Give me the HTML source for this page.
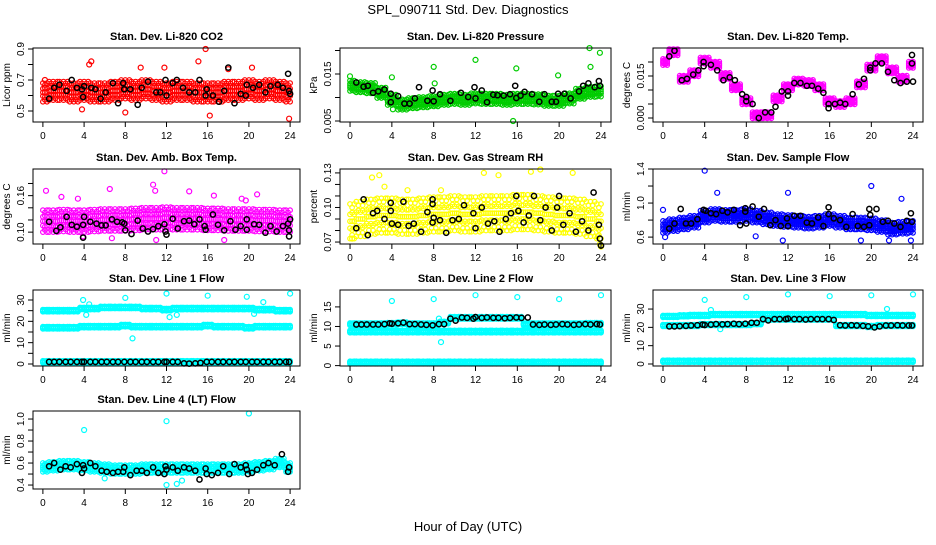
<!DOCTYPE html>
<html><head><meta charset="utf-8"><style>
body{margin:0;background:#fff}
svg text{font-family:"Liberation Sans",sans-serif}
</style></head><body>
<svg id="c" width="936" height="540" xmlns="http://www.w3.org/2000/svg">
<rect width="936" height="540" fill="#fff"/>
<text x="468" y="14" font-size="13" text-anchor="middle">SPL_090711  Std. Dev. Diagnostics</text>
<text x="468" y="531" font-size="13" text-anchor="middle">Hour of Day (UTC)</text>
</svg>
<script>
const xTicks=[0,4,8,12,16,20,24];
const H=[0.6,1.1,1.6,2.2,2.7,3.3,3.8,4,4.6,5.1,5.7,6.2,6.8,7.3,7.9,8.5,9,9.6,10.1,10.7,11.2,11.8,12,12.6,13.1,13.7,14.2,14.8,15.3,15.9,16.4,17,17.5,18.1,18.6,19.2,19.7,20.3,20.8,21.4,21.9,22.5,23,23.6,23.9];
const co2Band=[0.62,0.63,0.63,0.62,0.63,0.62,0.62,0.63,0.64,0.63,0.64,0.63,0.62,0.63,0.63,0.62,0.62,0.62,0.63,0.63,0.64,0.63,0.64,0.63,0.62];
const presBand=[0.0125,0.0122,0.012,0.011,0.0095,0.0085,0.0088,0.009,0.0092,0.0095,0.0097,0.0095,0.0098,0.0097,0.0097,0.0095,0.0097,0.0097,0.0096,0.0093,0.0093,0.0098,0.0108,0.0112,0.0113];
const tempBand=[0.020,0.0235,0.014,0.016,0.0205,0.019,0.015,0.011,0.006,0.001,0.001,0.007,0.011,0.013,0.0125,0.011,0.006,0.005,0.006,0.012,0.018,0.021,0.017,0.014,0.019];
const ambBand=[0.118,0.118,0.119,0.118,0.118,0.119,0.12,0.12,0.12,0.121,0.122,0.122,0.123,0.122,0.122,0.122,0.121,0.121,0.12,0.12,0.12,0.119,0.119,0.118,0.118];
const rhBand=[0.088,0.09,0.092,0.093,0.093,0.092,0.092,0.093,0.094,0.094,0.095,0.094,0.094,0.095,0.095,0.095,0.096,0.096,0.095,0.094,0.093,0.093,0.092,0.09,0.088];
const flowBand=[0.72,0.74,0.76,0.78,0.84,0.86,0.85,0.85,0.86,0.84,0.82,0.8,0.79,0.78,0.77,0.78,0.8,0.78,0.76,0.76,0.75,0.73,0.7,0.71,0.72];
const l1Up=[25,25,25,25,26,26,26.5,26.5,26.5,26.5,26,26,25.5,26,26,26,26,26,26,26,26,25.5,25.5,25,25];
const l1Mid=[17,17,17,17,17.5,17.5,17.5,17.5,18,17.5,17.5,17.5,17.5,17.5,17.5,17.5,18,17.5,17.5,17.5,17,17.5,17.5,17.5,17.5];
const l1Low=[1,1,1,1,1,1,1,1,1,1,1,1,1,1,1,1,1,1,1,1,1,1,1,1,1];
const l2Up=[10.6,10.6,10.6,10.6,10.7,10.8,10.6,10.6,10.6,11,12.2,12.2,12.2,12.2,12.2,12.2,12.2,10.6,10.6,10.6,10.6,10.6,10.6,10.7,10.7];
const l2Mid=[8.7,8.7,8.7,8.7,8.7,8.7,8.7,8.7,8.7,8.7,8.7,8.7,8.7,8.7,8.7,8.7,8.7,8.7,8.7,8.7,8.7,8.7,8.7,8.7,8.7];
const l2Low=[0.8,0.8,0.8,0.8,0.8,0.8,0.8,0.8,0.8,0.8,0.8,0.8,0.8,0.8,0.8,0.8,0.8,0.8,0.8,0.8,0.8,0.8,0.8,0.8,0.8];
const l3Up=[26,26,26.3,26.5,26.5,27,27,27,27,27,27,27,27,27,27,27,27,27,27,27,26.5,26.5,26.5,26.5,26.5];
const l3Mid=[21,21,21,21,21.5,21.5,21.5,21.5,21.5,22,24.5,24.5,24.5,24.5,24.5,24.5,24.5,21,21,21,20.5,21,21,21,21];
const l3Low=[1.5,1.5,1.5,1.5,1.5,1.5,1.5,1.5,1.5,1.5,1.5,1.5,1.5,1.5,1.5,1.5,1.5,1.5,1.5,1.5,1.5,1.5,1.5,1.5,1.5];
const l4Band=[0.56,0.57,0.58,0.58,0.57,0.56,0.55,0.54,0.54,0.54,0.55,0.55,0.55,0.55,0.55,0.55,0.55,0.55,0.55,0.55,0.56,0.57,0.58,0.6,0.56];
const co2Out=[[4.5,0.80],[4.7,0.82],[15.8,0.9],[16.2,0.47],[23.9,0.45],[15.1,0.82],[8,0.49],[20.3,0.78],[9.5,0.78],[11.8,0.78],[18,0.77],[3.8,0.51],[0.2,0.7]];
const presOut=[[0,0.0145],[4,0.0143],[8,0.0165],[8.1,0.013],[12,0.018],[15.6,0.005],[15.9,0.0162],[19.9,0.0147],[22.9,0.0205],[23,0.0165],[23.9,0.0195],[4.1,0.0075]];
const ambOut=[[0.3,0.168],[1.8,0.158],[3.4,0.155],[6.5,0.171],[10.7,0.178],[11.8,0.2],[10.9,0.168],[14.2,0.167],[16.6,0.16],[20.8,0.162],[19.3,0.155],[19.7,0.152],[11,0.087],[17.6,0.087],[6.7,0.09],[3.9,0.093]];
const rhOut=[[0.2,0.073],[2.1,0.126],[2.8,0.128],[3.3,0.118],[5.5,0.115],[8.7,0.115],[12.8,0.13],[14.2,0.128],[18.2,0.133],[17.3,0.131],[21.3,0.13],[23.7,0.075],[23.9,0.068],[24,0.066]];
const flowOut=[[4,1.38],[5.2,1.12],[12,1.12],[20,1.2],[22.9,1.05],[0,0.92],[0.2,0.6],[11.5,0.56],[8.9,0.61],[21.7,0.56],[19,0.56],[23.8,0.56]];
const l1Out=[[3.9,30],[4.5,28],[8,31],[8.7,12],[12,33],[12.3,22],[16,32],[19.8,31.5],[21.4,29],[24,33],[20.5,23.5],[4.2,23],[13,23]];
const l2Out=[[4,16.5],[8,17],[8.5,12],[8.7,6],[12,18],[16,17.5],[20,17],[24,18]];
const l3Out=[[4,35],[8,36.5],[12,38],[16,37],[20,37.5],[24,38],[4.6,29.5],[21.5,30],[5.5,19]];
const l4Out=[[4,0.9],[12,0.98],[20,1.05],[12,0.4],[13,0.41],[13.5,0.44],[6,0.46]];
const co2Blk=[[0.6,0.58],[1.1,0.65],[1.6,0.67],[2.3,0.63],[2.8,0.7],[3.3,0.65],[3.8,0.64],[3.9,0.59],[4,0.66],[4.7,0.65],[5.1,0.64],[5.6,0.58],[6.1,0.62],[6.8,0.68],[7.3,0.55],[7.8,0.68],[7.9,0.64],[8.5,0.64],[9.2,0.54],[9.6,0.65],[10.2,0.69],[11,0.62],[11.4,0.62],[11.9,0.7],[12,0.6],[12.6,0.68],[13,0.7],[13.6,0.65],[14.2,0.62],[14.8,0.62],[15.2,0.7],[15.8,0.6],[15.9,0.64],[16.5,0.6],[17.1,0.56],[17.6,0.63],[18,0.78],[18.6,0.55],[19.2,0.61],[19.7,0.6],[19.8,0.67],[20.4,0.65],[21,0.67],[21.6,0.62],[22.1,0.66],[22.8,0.67],[23.3,0.65],[23.8,0.74],[23.9,0.63],[24,0.61]];
const presBlk=[[0.6,0.0132],[1.3,0.0123],[1.7,0.0125],[2.2,0.011],[2.7,0.0113],[3.3,0.0117],[3.9,0.0108],[3.9,0.009],[4.6,0.0103],[5.2,0.0087],[5.7,0.0087],[6.2,0.0098],[6.6,0.0122],[7.4,0.0093],[7.9,0.0115],[8,0.0092],[8.6,0.0107],[9.6,0.0093],[10.6,0.011],[11.3,0.0101],[11.9,0.0122],[12,0.0098],[12.6,0.0115],[13.1,0.009],[13.7,0.0106],[14.1,0.0105],[14.7,0.0104],[15.3,0.0107],[15.8,0.0125],[15.9,0.0099],[16.3,0.0104],[16.7,0.0112],[17.4,0.0107],[18.1,0.0091],[18.6,0.0107],[19.3,0.0091],[19.7,0.0091],[19.9,0.0108],[20.5,0.0108],[21.1,0.0098],[21.9,0.0113],[22.3,0.0125],[22.8,0.013],[23.4,0.0122],[23.8,0.0135],[23.9,0.0125]];
const tempBlk=[[0.6,0.022],[1.1,0.024],[1.8,0.0135],[2.3,0.014],[2.9,0.0155],[3.4,0.017],[3.9,0.02],[3.9,0.0185],[4.6,0.019],[5.2,0.017],[5.8,0.0135],[6.4,0.0145],[6.9,0.0135],[7.6,0.0085],[8,0.0075],[8,0.006],[8.6,0.005],[9.2,0],[9.8,0.002],[10.4,0.002],[10.8,0.004],[11.4,0.0095],[12,0.0095],[12,0.008],[12.6,0.0125],[13.2,0.0125],[13.8,0.0115],[14.3,0.0115],[14.9,0.0105],[15.4,0.009],[15.9,0.005],[15.9,0.0035],[16.5,0.005],[17,0.0055],[17.5,0.005],[18.2,0.0085],[18.8,0.012],[19.3,0.014],[19.9,0.018],[19.9,0.017],[20.4,0.0195],[21,0.0195],[21.6,0.0165],[22.2,0.0135],[22.8,0.0125],[23.4,0.013],[23.9,0.0225],[23.9,0.0195],[24,0.013]];
const ambBlk=[[0.6,0.117],[1.3,0.102],[1.7,0.108],[2.3,0.125],[2.8,0.112],[3.3,0.109],[3.9,0.091],[3.9,0.112],[4,0.125],[4.6,0.117],[5.2,0.114],[5.7,0.111],[6.1,0.111],[6.7,0.121],[7.2,0.117],[7.7,0.116],[7.9,0.114],[8,0.103],[8.6,0.097],[9.2,0.119],[9.7,0.106],[10.2,0.101],[10.7,0.105],[11.2,0.11],[11.8,0.113],[11.9,0.101],[12,0.096],[12.6,0.122],[13.1,0.106],[13.7,0.118],[14.2,0.119],[14.7,0.113],[15.2,0.121],[15.7,0.11],[15.8,0.104],[16.5,0.129],[17,0.112],[17.6,0.103],[18.2,0.118],[18.7,0.104],[19.2,0.11],[19.8,0.121],[19.8,0.104],[20.5,0.113],[21,0.112],[21.6,0.099],[22.1,0.11],[22.7,0.101],[23.3,0.11],[23.8,0.114],[23.9,0.103],[24,0.121],[23.9,0.093]];
const rhBlk=[[0.6,0.082],[1.3,0.107],[1.7,0.076],[2.2,0.095],[2.6,0.097],[3.3,0.09],[3.9,0.104],[3.9,0.097],[4,0.086],[4.6,0.085],[5.1,0.105],[5.6,0.084],[6.1,0.086],[6.8,0.079],[7.4,0.096],[7.9,0.107],[7.9,0.103],[7.9,0.087],[8,0.091],[8.6,0.089],[9.2,0.078],[9.8,0.089],[10.4,0.09],[10.9,0.102],[11.8,0.095],[12,0.082],[12.6,0.1],[13.2,0.086],[13.8,0.088],[14.3,0.079],[14.9,0.09],[15.4,0.095],[15.9,0.11],[16.1,0.097],[16.6,0.087],[17.1,0.093],[17.6,0.11],[18.2,0.089],[18.7,0.1],[19.3,0.08],[19.8,0.1],[20,0.11],[20.4,0.085],[21,0.095],[21.6,0.079],[22.2,0.088],[22.8,0.08],[23.3,0.113],[23.8,0.085],[23.9,0.073],[24,0.067]];
const flowBlk=[[0.6,0.7],[1.1,0.76],[1.7,0.93],[2.2,0.76],[2.7,0.76],[3.3,0.81],[3.9,0.92],[4.1,0.91],[4.6,0.88],[5.1,0.87],[5.7,0.91],[6.2,0.89],[6.8,0.92],[7.4,0.74],[7.9,0.94],[7.9,0.9],[8,0.76],[8.6,0.96],[9.2,0.84],[9.7,0.93],[10.3,0.74],[10.8,0.8],[11.3,0.73],[11.9,0.82],[12,0.73],[12.6,0.85],[13.2,0.85],[13.8,0.77],[14.3,0.76],[14.9,0.83],[15.4,0.73],[15.9,0.95],[15.9,0.87],[16.4,0.82],[17,0.8],[17.6,0.72],[18.2,0.87],[18.7,0.73],[19.3,0.72],[19.8,0.93],[19.8,0.74],[19.9,0.86],[20.5,0.93],[21.1,0.78],[21.6,0.79],[22.2,0.76],[22.8,0.72],[23.4,0.79],[23.8,0.88],[23.9,0.78]];
const l1Blk=[1,1,1,1,1,1,1,1,1,1,1,1,1,1,1,1,1,1,1,1,1,1,1,1,1,0.3,0.2,0.3,0.5,1,1,1,1,1,1,1,1,1,1,1,1,1,1,1,1];
const l2Blk=[10.5,10.5,10.5,10.5,10.5,10.6,10.8,10.7,10.8,11,10.6,10.6,10.5,10.4,10.3,10.6,10.6,12,11.5,12.3,12.2,12,12.4,12.2,12.3,12.2,12.2,12.1,12.2,12.3,12.2,12.3,10.5,10.4,10.5,10.4,10.5,10.6,10.5,10.4,10.5,10.6,10.5,10.6,10.5];
const l3Blk=[20.5,20.5,20.7,20.8,21,21.2,21.5,21.3,21.5,21.8,21.6,21.8,22,21.8,22,22.5,22.5,24.5,23.8,24.5,24.5,24.5,24.8,24.5,24.5,24.3,24.5,24.5,24.5,24.5,24,21.2,21,21.2,21,20.8,20.5,20,20.5,21,21,21.2,21,21,21];
const l4Blk=[[0.6,0.57],[1.1,0.6],[1.7,0.54],[2.2,0.57],[2.7,0.56],[3.3,0.59],[3.8,0.51],[3.9,0.58],[4,0.55],[4.6,0.6],[5.1,0.57],[5.7,0.53],[6.2,0.52],[6.8,0.51],[7.3,0.52],[7.8,0.52],[7.9,0.56],[8.5,0.49],[9.1,0.53],[9.6,0.53],[10.1,0.51],[10.7,0.56],[11.2,0.51],[11.8,0.5],[11.9,0.57],[12,0.54],[12.6,0.56],[13.1,0.53],[13.7,0.56],[14.2,0.55],[14.8,0.53],[15.2,0.45],[15.8,0.55],[15.9,0.5],[16.4,0.49],[17,0.51],[17.5,0.57],[18.1,0.5],[18.6,0.59],[19.2,0.56],[19.7,0.58],[19.8,0.54],[19.9,0.5],[20.3,0.51],[20.8,0.54],[21.4,0.58],[21.9,0.6],[22.5,0.58],[23.2,0.68],[23.8,0.52],[23.9,0.56]];

const svg=document.getElementById('c');
const NS='http://www.w3.org/2000/svg';
function mk(t,a,p){const e=document.createElementNS(NS,t);for(const k in a)e.setAttribute(k,a[k]);p.appendChild(e);return e;}
const colL=[33,340,653],colR=[300,611,923],rowT=[48,169,290,411],rowB=[122,244,366,489];
const panels=[
 {name:'co2',title:'Stan. Dev. Li-820 CO2',yl:'Licor ppm',c:0,r:0,lo:0.429,hi:0.9065,color:'#ff0000',bands:[co2Band],sp:0.06,out:co2Out,blk:co2Blk,ticks:[0.5,0.6,0.7,0.8,0.9],labs:[[0.5,'0.5'],[0.7,'0.7'],[0.9,'0.9']]},
 {name:'pressure',title:'Stan. Dev. Li-820 Pressure',yl:'kPa',c:1,r:0,lo:0.00479,hi:0.02053,color:'#00cc00',bands:[presBand],sp:0.0011,out:presOut,blk:presBlk,ticks:[0.005,0.01,0.015,0.02],labs:[[0.005,'0.005'],[0.015,'0.015']]},
 {name:'temp',title:'Stan. Dev. Li-820 Temp.',yl:'degrees C',c:2,r:0,lo:-0.00143,hi:0.025,color:'#ff00ff',bands:[tempBand],sp:0.0011,out:[],blk:tempBlk,ticks:[0,0.005,0.01,0.015,0.02],labs:[[0,'0.000'],[0.015,'0.015']]},
 {name:'amb-box',title:'Stan. Dev. Amb. Box Temp.',yl:'degrees C',c:0,r:1,lo:0.0805,hi:0.2038,color:'#ff00ff',bands:[ambBand],sp:0.018,out:ambOut,blk:ambBlk,ticks:[0.1,0.12,0.14,0.16,0.18],labs:[[0.1,'0.10'],[0.16,'0.16']]},
 {name:'rh',title:'Stan. Dev. Gas Stream RH',yl:'percent',c:1,r:1,lo:0.0683,hi:0.1334,color:'#ffff00',bands:[rhBand],sp:0.015,out:rhOut,blk:rhBlk,ticks:[0.07,0.08,0.09,0.1,0.11,0.12,0.13],labs:[[0.07,'0.07'],[0.1,'0.10'],[0.13,'0.13']]},
 {name:'sample-flow',title:'Stan. Dev. Sample Flow',yl:'ml/min',c:2,r:1,lo:0.519,hi:1.4,color:'#0000ff',bands:[flowBand],sp:0.07,out:flowOut,blk:flowBlk,ticks:[0.6,0.8,1.0,1.2,1.4],labs:[[0.6,'0.6'],[1.0,'1.0'],[1.4,'1.4']]},
 {name:'line1',title:'Stan. Dev. Line 1 Flow',yl:'ml/min',c:0,r:2,lo:-0.94,hi:34.69,color:'#00ffff',bands:[l1Up,l1Mid,l1Low],sp:0.5,out:l1Out,blk:H.map((h,i)=>[h,l1Blk[i]]),ticks:[0,5,10,15,20,25,30],labs:[[0,'0'],[10,'10'],[20,'20'],[30,'30']]},
 {name:'line2',title:'Stan. Dev. Line 2 Flow',yl:'ml/min',c:1,r:2,lo:-0.1,hi:19.32,color:'#00ffff',bands:[l2Up,l2Mid,l2Low],sp:0.3,out:l2Out,blk:H.map((h,i)=>[h,l2Blk[i]]),ticks:[0,5,10,15],labs:[[0,'0'],[5,'5'],[10,'10'],[15,'15']]},
 {name:'line3',title:'Stan. Dev. Line 3 Flow',yl:'ml/min',c:2,r:2,lo:-1.1,hi:40.4,color:'#00ffff',bands:[l3Up,l3Mid,l3Low],sp:0.5,out:l3Out,blk:H.map((h,i)=>[h,l3Blk[i]]),ticks:[0,10,20,30],labs:[[0,'0'],[10,'10'],[20,'20'],[30,'30']]},
 {name:'line4',title:'Stan. Dev. Line 4 (LT) Flow',yl:'ml/min',c:0,r:3,lo:0.364,hi:1.073,color:'#00ffff',bands:[l4Band],sp:0.04,out:l4Out,blk:l4Blk,ticks:[0.4,0.5,0.6,0.7,0.8,0.9,1.0],labs:[[0.4,'0.4'],[0.6,'0.6'],[0.8,'0.8'],[1.0,'1.0']]}
];
panels.forEach(p=>{
 const L=colL[p.c],R=colR[p.c],T=rowT[p.r],B=rowB[p.r];
 const X=h=>L+(h+0.96)/25.92*(R-L);
 const Y=v=>B-(v-p.lo)/(p.hi-p.lo)*(B-T);
 const g=mk('g',{},svg);
 
 
 const cg=mk('g',{fill:'none',stroke:p.color,'stroke-width':1.2},g);
 
 
 p.bands.forEach(band=>{band.forEach((v,i)=>{[-0.4,-0.2,0,0.2,0.4].forEach((dx,j)=>{const h=i+dx;if(h<0||h>24)return;[-1,-0.5,0,0.5,1].forEach((k,m)=>{
   const kk=((j+m)%2)?k*0.8:k;
   const e=mk('circle',{cx:X(h).toFixed(1),cy:Y(v+kk*p.sp).toFixed(1),r:2.3},cg);
   
   
 });});});});
 p.out.forEach(d=>{const e=mk('circle',{cx:X(d[0]).toFixed(1),cy:Y(d[1]).toFixed(1),r:2.5},cg);
   
   });
 const bg=mk('g',{fill:'none',stroke:'#000','stroke-width':1.5},g);
 p.blk.forEach(d=>{const e=mk('circle',{cx:X(d[0]).toFixed(1),cy:Y(d[1]).toFixed(1),r:2.6},bg);
   
   });
 const box=mk('rect',{x:L,y:T,width:R-L,height:B-T,fill:'none',stroke:'#000','stroke-width':1},g);
 
 
 xTicks.forEach(t=>{mk('line',{x1:X(t),x2:X(t),y1:B,y2:B+5,stroke:'#000'},g);
   const tx=mk('text',{x:X(t),y:B+17,'font-size':10,'text-anchor':'middle'},g);tx.textContent=t;
   
   });
 p.ticks.forEach(t=>mk('line',{x1:L-5,x2:L,y1:Y(t),y2:Y(t),stroke:'#000'},g));
 p.labs.forEach(l=>{const y=Y(l[0]);const tx=mk('text',{x:L-9,y:y,'font-size':10,'text-anchor':'middle',transform:`rotate(-90 ${L-9} ${y})`},g);tx.textContent=l[1];
   
   });
 const yc=(T+B)/2;
 const yl=mk('text',{x:L-23,y:yc,'font-size':10,'text-anchor':'middle',transform:`rotate(-90 ${L-23} ${yc})`},g);yl.textContent=p.yl;
 
 
 const tt=mk('text',{x:(L+R)/2,y:T-8,'font-size':11,'font-weight':'bold','text-anchor':'middle'},g);tt.textContent=p.title;
 
 
});
</script>
</body></html>
